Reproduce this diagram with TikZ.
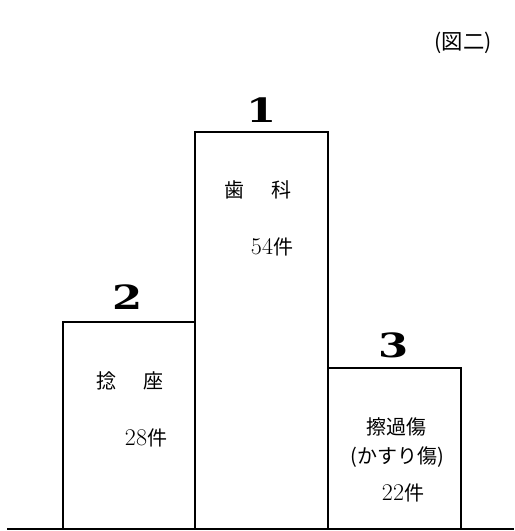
\documentclass[tikz,border=0pt]{standalone}
\usepackage{fontspec}
\usepackage{graphicx}
\newfontfamily\jp{Noto Sans CJK JP}
\newfontfamily\numfont{DejaVu Serif}

\begin{document}
\begin{tikzpicture}
		[x=0.75pt, y=-0.75pt,
		 bar/.style= {line width=1.5pt,draw=black},
		 rank/.style= {inner sep=0pt,font=\fontsize{25}{25}\selectfont\numfont\bfseries},
		 cat/.style= {inner sep=0pt,font=\fontsize{15}{18}\selectfont\jp},
		 count/.style= {inner sep=0pt,font=\fontsize{18}{18}\selectfont}]
		
		\useasboundingbox (0,0) rectangle (514,531);
		
		\node[cat,font=\fontsize{16}{18}\selectfont\jp] (fig) at (463,43) {(図二)};
		
		% bars
		\draw[bar] (63,529) rectangle (195,322);
		\draw[bar] (195,529) rectangle (328,132);
		\draw[bar] (328,529) rectangle (461,368);
		\draw[bar] (7,529) -- (514,529);
		
		\node[rank] (r1) at (262,110) {\scalebox{1.3}[1]{1}};
		\node[rank] (r2) at (128,297) {\scalebox{1.3}[1]{2}};
		\node[rank] (r3) at (394,345) {\scalebox{1.3}[1]{3}};
		
		\node[cat] (c1) at (258,190) {歯\hspace{1.35em}科};
		\node[count] (k1) at (272,247) {54{\fontsize{15}{18}\selectfont\jp 件}};
		
		\node[cat] (c2) at (130,381) {捻\hspace{1.35em}座};
		\node[count] (k2) at (146,438) {28{\fontsize{15}{18}\selectfont\jp 件}};
		
		\node[cat] (c3) at (396,427) {擦過傷};
		\node[cat] (c3b) at (397,457) {(かすり傷)};
		\node[count] (k3) at (403,493) {22{\fontsize{15}{18}\selectfont\jp 件}};
		
	\end{tikzpicture}
\end{document}
